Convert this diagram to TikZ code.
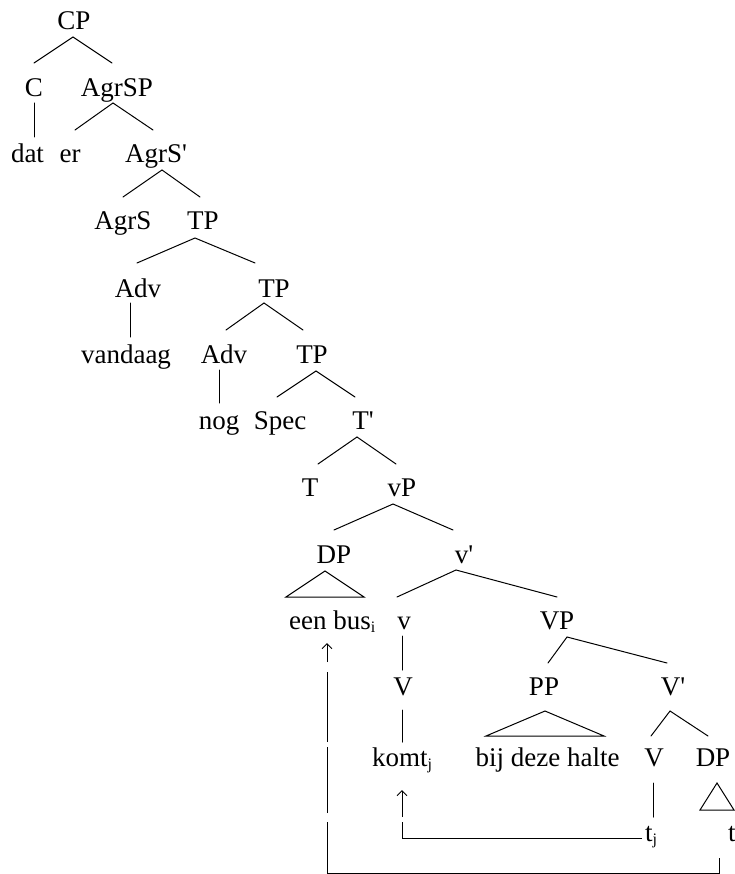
\documentclass[tikz,border=0pt]{standalone}
\usepackage{fontspec}
\setmainfont{Liberation Serif}[Ligatures=TeXOff]
\usetikzlibrary{calc,arrows.meta}

\newcommand\treefont{\fontsize{27}{32}\selectfont}
\newcommand\idx[1]{\raisebox{-3pt}{\fontsize{16}{16}\selectfont #1}}

\begin{document}
\begin{tikzpicture}[x=1pt,y=-1pt,
  lbl/.style={anchor=base,inner sep=0pt,font=\treefont},
  lblw/.style={anchor=base west,inner sep=0pt,font=\treefont},
  branch/.style={line width=1pt,line cap=round,line join=miter},
  move/.style={line width=1pt,-{Straight Barb[length=5pt,width=10pt,line width=1pt]}}]

\useasboundingbox (0,0) rectangle (734,874);

% ---- labels, row by row (x = centre, y = baseline) ----
\node[lbl] (cp)      at (74,30)  {CP};
\node[lbl] (c)       at (34,97)  {C};
\node[lbl] (agrsp)   at (117,97) {AgrSP};
\node[lbl] (dat)     at (27.5,163) {dat};
\node[lbl] (er)      at (70,163) {er};
\node[lbl] (agrsbar) at (156,163) {AgrS'};
\node[lbl] (agrs)    at (123,230) {AgrS};
\node[lbl] (tpa)     at (203,230) {TP};
\node[lbl] (adva)    at (138,297) {Adv};
\node[lbl] (tpb)     at (274,297) {TP};
\node[lbl] (vandaag) at (126,363) {vandaag};
\node[lbl] (advb)    at (224,363) {Adv};
\node[lbl] (tpc)     at (312,363) {TP};
\node[lbl] (nog)     at (219,429) {nog};
\node[lbl] (spec)    at (280,429) {Spec};
\node[lbl] (tbar)    at (363,429) {T'};
\node[lbl] (thead)   at (310,496) {T};
\node[lbl] (vp)      at (402,496) {vP};
\node[lbl] (dpa)     at (334,563) {DP};
\node[lbl] (vbar)    at (464,563) {v'};
\node[lblw] (eenbus) at (289,629) {een bus\idx{i}};
\node[lbl] (vlight)  at (404,629) {v};
\node[lbl] (vpbig)   at (557,629) {VP};
\node[lbl] (vverb)   at (403,695) {V};
\node[lbl] (pp)      at (544,695) {PP};
\node[lbl] (vbarbig) at (673,695) {V'};
\node[lblw] (komt)   at (372,766) {komt\idx{j}};
\node[lbl] (halte)   at (547.5,766) {bij deze halte};
\node[lbl] (vlow)    at (654,766) {V};
\node[lbl] (dpb)     at (713,766) {DP};
\node[lblw] (tj)     at (645,841) {t\idx{j}};
\node[lblw] (tdp)    at (728,841) {t};

% ---- branches ----
\draw[branch] ($(c.base)+(0,-34)$) -- ($(cp.base)+(-1,7)$) -- ($(agrsp.base)+(-5,-34)$);
\draw[branch] ($(c.base)+(0,6)$) -- ($(dat.base)+(6.5,-26)$);
\draw[branch] ($(er.base)+(5,-33)$) -- ($(agrsp.base)+(-4,6)$) -- ($(agrsbar.base)+(-3,-33)$);
\draw[branch] ($(agrs.base)+(0,-33)$) -- ($(agrsbar.base)+(6,7)$) -- ($(tpa.base)+(-3,-33)$);
\draw[branch] ($(adva.base)+(-1,-34)$) -- ($(tpa.base)+(-8,8)$) -- ($(tpb.base)+(-19,-34)$);
\draw[branch] ($(adva.base)+(-8,6)$) -- ($(vandaag.base)+(4,-26)$);
\draw[branch] ($(advb.base)+(2,-33)$) -- ($(tpb.base)+(-10,6)$) -- ($(tpc.base)+(-9,-33)$);
\draw[branch] ($(advb.base)+(-5,7)$) -- ($(nog.base)+(0,-26)$);
\draw[branch] ($(spec.base)+(-3,-32)$) -- ($(tpc.base)+(4,8)$) -- ($(tbar.base)+(-8,-32)$);
\draw[branch] ($(thead.base)+(8,-32)$) -- ($(tbar.base)+(-6,8)$) -- ($(vp.base)+(-6,-32)$);
\draw[branch] ($(dpa.base)+(0,-33)$) -- ($(vp.base)+(-9,8)$) -- ($(vbar.base)+(-11,-33)$);
\draw[branch] ($(vlight.base)+(-7,-32)$) -- ($(vbar.base)+(-8,7)$) -- ($(vpbig.base)+(0,-32)$);
\draw[branch] ($(vlight.base)+(-2,7)$) -- ($(vverb.base)+(-1,-25)$);
\draw[branch] ($(pp.base)+(4,-32)$) -- ($(vpbig.base)+(10,8)$) -- ($(vbarbig.base)+(-6,-32)$);
\draw[branch] ($(vverb.base)+(-1,15)$) -- ($(komt.base west)+(30,-24)$);
\draw[branch] ($(vlow.base)+(-3,-30)$) -- ($(vbarbig.base)+(-3,16)$) -- ($(dpb.base)+(-5,-30)$);
\draw[branch] ($(vlow.base)+(-1,17)$) -- ($(tj.base west)+(8,-24)$);

% ---- triangles ----
\draw[branch] ($(dpa.base)+(-9,8)$) -- ($(dpa.base)+(-48,34)$) -- ($(dpa.base)+(30,34)$) -- cycle;
\draw[branch] ($(pp.base)+(1,16)$) -- ($(pp.base)+(-58,41)$) -- ($(pp.base)+(60,41)$) -- cycle;
\draw[branch] ($(dpb.base)+(4,17)$) -- ($(dpb.base)+(-13,44)$) -- ($(dpb.base)+(21,44)$) -- cycle;

% ---- movement arrows ----
\draw[move,dash pattern=on 256pt off 5pt on 60pt]
  ($(tj.base west)+(-3,-3)$) -| ($(komt.base west)+(30,24)$);
\draw[move,dash pattern=on 458pt off 9pt on 66pt off 5pt on 70pt off 10pt on 60pt]
  ($(tdp.base west)+(-9,17)$) -- ++(0,15) -| ($(eenbus.base west)+(38,14)$);

\end{tikzpicture}
\end{document}
